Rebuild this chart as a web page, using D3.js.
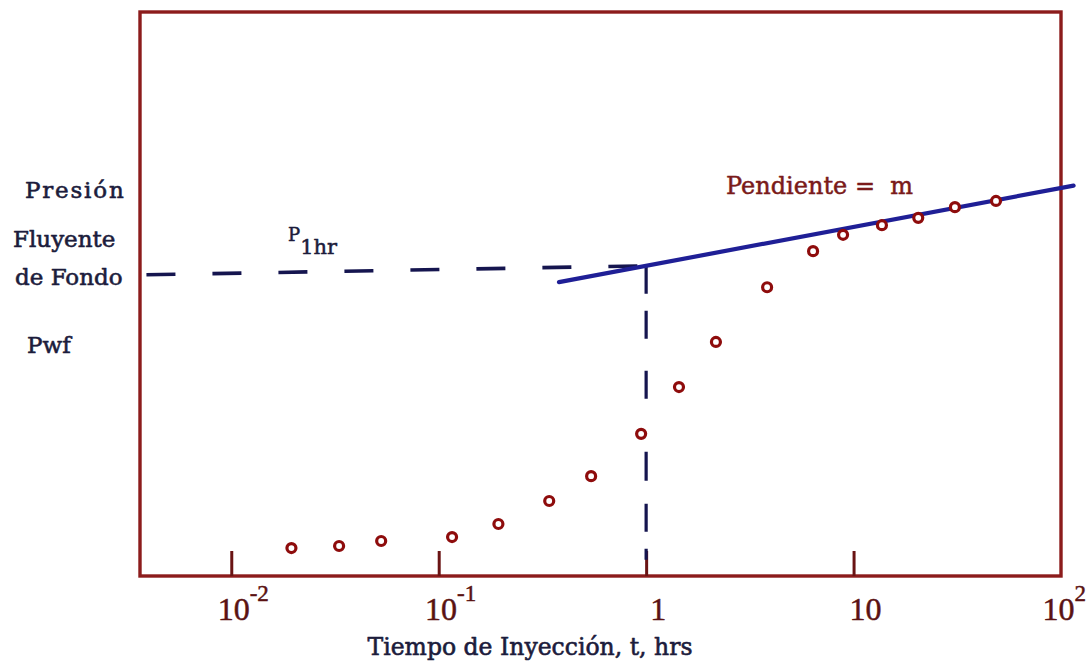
<!DOCTYPE html>
<html>
<head>
<meta charset="utf-8">
<script src="https://cdn.jsdelivr.net/npm/d3@7"></script>
<style>
  body { margin: 0; background: #fff; }
  svg { display: block; }
</style>
</head>
<body>
<svg id="chart" width="1092" height="666"></svg>
<script>
// Injection test: bottom-hole flowing pressure vs. log time
const tHours = [0.0195, 0.0331, 0.0528, 0.116, 0.194, 0.341, 0.543, 0.946,
                1.44, 2.17, 3.83, 6.38, 8.90, 13.7, 20.5, 30.8, 48.6];
const pwfValues = [4.96, 5.32, 6.21, 6.91, 9.22, 13.3, 17.7, 25.2,
                   33.5, 41.5, 51.2, 57.6, 60.5, 62.2, 63.5, 65.4, 66.5];

// Semi-log straight line: Pwf = P1hr + m * log10(t)
const p1hr = 55.0;
const slopeM = 6.9;
const lineT = [0.38, 115];

// Guide lines reading P1hr at t = 1 hr
const guideT = [0.0039, 1];
const guideP = [53.4, p1hr];
const dropP = [p1hr, 2.9];

// Axis ticks and labels
const tickValues = [0.01, 0.1, 1, 10, 100];
const tickBase = ["10", "10", "1", "10", "10"];
const tickExp = ["-2", "-1", "", "", "2"];

const W = 1092;
const frame = { left: 140, top: 12, right: 1061, bottom: 576 };
const svg = d3.select("#chart");

const x = d3.scaleLog()
  .domain([Math.pow(10, -2.44), 100])
  .range([frame.left, frame.right]);
const y = d3.scaleLinear()
  .domain([0, 100])
  .range([frame.bottom, frame.top]);

const frameColor = "#8c1c1c";
const pointColor = "#8e0c0c";
const lineColor = "#1f1f96";
const guideColor = "#15154f";
const inkColor = "#1c1c3c";
const labelFont = "'DejaVu Serif', serif";
const numberFont = "'Liberation Serif', serif";

// Slightly heavier glyphs, like a photocopied figure
function heavy(sel, color, w) {
  return sel.attr("stroke", color).attr("stroke-width", w)
    .attr("paint-order", "stroke").attr("stroke-linejoin", "round");
}

// Plot frame
svg.append("rect")
  .attr("x", frame.left).attr("y", frame.top)
  .attr("width", frame.right - frame.left)
  .attr("height", frame.bottom - frame.top)
  .attr("fill", "none")
  .attr("stroke", frameColor)
  .attr("stroke-width", 3.4);

// Tick marks rising from the time axis
const axis = d3.axisBottom(x)
  .tickValues(tickValues.slice(0, 4))
  .tickSizeInner(-25)
  .tickSizeOuter(0)
  .tickFormat("");
const axisG = svg.append("g")
  .attr("transform", `translate(0,${frame.bottom})`)
  .call(axis);
axisG.select(".domain").remove();
axisG.selectAll(".tick line")
  .attr("stroke", "#6a1414")
  .attr("stroke-width", 3);

// Tick labels as powers of ten
const tickLabels = svg.append("g")
  .attr("fill", "#5a1212")
  .attr("font-family", numberFont);
heavy(tickLabels, "#5a1212", 0.5);
tickValues.forEach((v, i) => {
  const t = tickLabels.append("text")
    .attr("x", x(v) + 12)
    .attr("y", 620)
    .attr("text-anchor", "middle")
    .attr("font-size", 32);
  t.append("tspan").text(tickBase[i]);
  if (tickExp[i]) {
    t.append("tspan")
      .attr("dy", -19)
      .attr("font-size", 23)
      .text(tickExp[i]);
  }
  // keep the label inside the page
  const box = t.node().getBBox();
  const over = box.x + box.width - (W - 6);
  if (over > 0) t.attr("x", x(v) + 12 - over);
});

// Horizontal dashed guide at P1hr
const guide = d3.line()
  .x(d => x(d[0]))
  .y(d => y(d[1]));
svg.append("path")
  .datum(guideT.map((t, i) => [t, guideP[i]]))
  .attr("d", guide)
  .attr("fill", "none")
  .attr("stroke", guideColor)
  .attr("stroke-width", 3.6)
  .attr("stroke-dasharray", "29,37");

// Vertical dashed drop at t = 1 hr
svg.append("path")
  .datum(dropP.map(p => [1, p]))
  .attr("d", guide)
  .attr("fill", "none")
  .attr("stroke", guideColor)
  .attr("stroke-width", 3.2)
  .attr("stroke-dasharray", "28,17,28,32,28,53,29,23,28,17,12,40");

// Semi-log straight line
svg.append("path")
  .datum(lineT.map(t => [t, p1hr + slopeM * Math.log10(t)]))
  .attr("d", guide)
  .attr("fill", "none")
  .attr("stroke", lineColor)
  .attr("stroke-width", 4.2)
  .attr("stroke-linecap", "round");

// Measured pressures
svg.append("g")
  .selectAll("circle")
  .data(tHours.map((t, i) => [t, pwfValues[i]]))
  .join("circle")
  .attr("cx", d => x(d[0]))
  .attr("cy", d => y(d[1]))
  .attr("r", 4.5)
  .attr("fill", "#fff")
  .attr("stroke", pointColor)
  .attr("stroke-width", 3.2);

// Y-axis description
const yLabel = svg.append("g")
  .attr("fill", inkColor)
  .attr("font-family", labelFont)
  .attr("font-size", 23);
heavy(yLabel, inkColor, 0.6);
yLabel.append("text").attr("x", 25).attr("y", 198)
  .attr("letter-spacing", 1.8).text("Presión");
yLabel.append("text").attr("x", 13).attr("y", 247).text("Fluyente");
yLabel.append("text").attr("x", 15).attr("y", 285).text("de Fondo");
yLabel.append("text").attr("x", 27).attr("y", 353).text("Pwf");

// P1hr annotation
const pLabel = svg.append("text")
  .attr("x", 288).attr("y", 241)
  .attr("fill", inkColor)
  .attr("font-family", labelFont);
heavy(pLabel, inkColor, 0.5);
pLabel.append("tspan").attr("font-size", 18).text("P");
pLabel.append("tspan").attr("dy", 13).attr("font-size", 21).text("1hr");

// Slope annotation
const slopeLabel = svg.append("text")
  .attr("x", 726).attr("y", 194)
  .attr("fill", "#7a1a1a")
  .attr("font-family", labelFont)
  .attr("font-size", 24)
  .attr("xml:space", "preserve")
  .style("white-space", "pre")
  .text("Pendiente =  m");
heavy(slopeLabel, "#7a1a1a", 0.5);

// Time axis title
const xTitle = svg.append("text")
  .attr("x", 530).attr("y", 655)
  .attr("text-anchor", "middle")
  .attr("fill", inkColor)
  .attr("font-family", labelFont)
  .attr("font-size", 23.5)
  .text("Tiempo de Inyección, t, hrs");
heavy(xTitle, inkColor, 0.6);
</script>
</body>
</html>
